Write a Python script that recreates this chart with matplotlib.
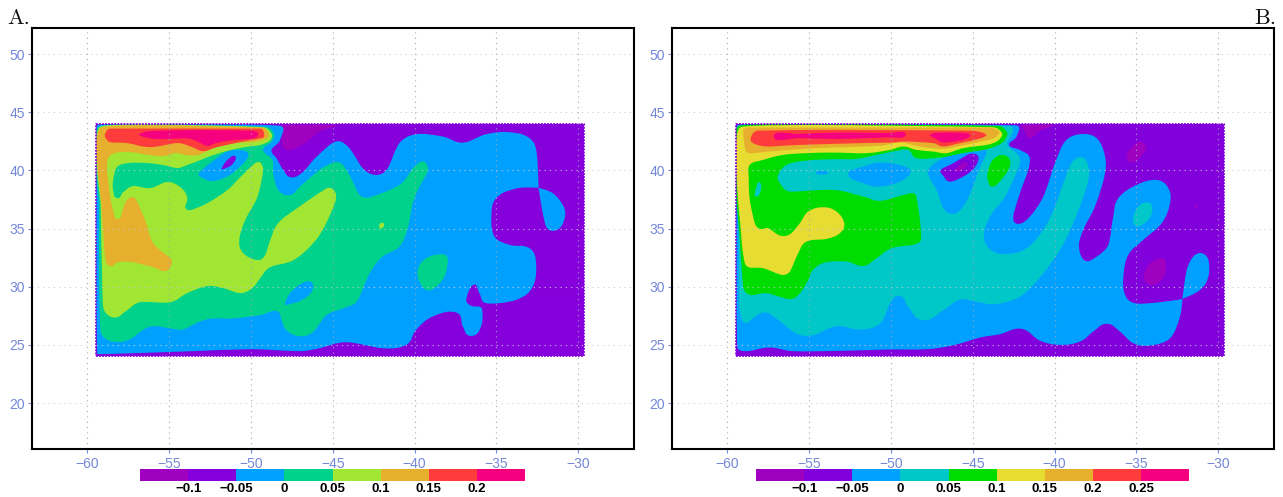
import numpy as np
import matplotlib
matplotlib.use('Agg')
import matplotlib.pyplot as plt
from matplotlib.colors import ListedColormap, BoundaryNorm
from matplotlib.path import Path
from matplotlib.patches import PathPatch, Rectangle

# contour outlines, as (lon, lat)
field_lon = [-59.47, -29.68]
field_lat = [24.08, 44.0]

xtick_vals = [-60, -55, -50, -45, -40, -35, -30]
ytick_vals = [20, 25, 30, 35, 40, 45, 50]

a_levels = [-0.15, -0.1, -0.05, 0, 0.05, 0.1, 0.15, 0.2, 0.25]
a_ticks = [-0.1, -0.05, 0, 0.05, 0.1, 0.15, 0.2]
a_tick_labels = ['\u22120.1', '\u22120.05', '0', '0.05', '0.1', '0.15', '0.2']
a_colors = ['#a000c0', '#8600dc', '#00a0ff', '#00d28c', '#a0e632', '#e6af2d', '#ff3c3c', '#f5007f']

b_levels = [-0.15, -0.1, -0.05, 0, 0.05, 0.1, 0.15, 0.2, 0.25, 0.3]
b_ticks = [-0.1, -0.05, 0, 0.05, 0.1, 0.15, 0.2, 0.25]
b_tick_labels = ['\u22120.1', '\u22120.05', '0', '0.05', '0.1', '0.15', '0.2', '0.25']
b_colors = ['#a000c0', '#8200dc', '#00a0ff', '#00c8c8', '#00dc00', '#e6dc32', '#e6af2d', '#ff3c3c', '#f5007f']

a_blue = [(-59.4, 43.87), (-48.27, 43.85), (-48.23, 42.6), (-48.74, 41.75), (-48.43, 41.03), (-48.02, 40.03),
          (-47.52, 39.4), (-46.8, 39.89), (-45.99, 41.17), (-44.8, 42.48), (-43.98, 41.9), (-43.17, 40.19),
          (-42.35, 39.61), (-41.64, 40.19), (-40.93, 42.34), (-39.91, 43.11), (-38.28, 42.91), (-37.06, 42.39),
          (-35.63, 43.11), (-34.21, 43.28), (-32.98, 42.77), (-32.54, 41.48), (-32.43, 38.5), (-32.43, 38.5),
          (-33.8, 38.44),
          (-35.02, 37.61), (-35.31, 36.03), (-35.12, 34.31), (-34.21, 33.6), (-32.98, 33.31), (-32.58, 32.02),
          (-32.78, 30.01), (-33.8, 28.87), (-35.63, 28.58), (-36.04, 29.44), (-36.41, 30.16), (-36.85, 28.87),
          (-36.55, 28.36), (-35.9, 28.15), (-35.94, 26.58), (-36.55, 25.77), (-37.06, 26.58), (-37.46, 27.78),
          (-38.89, 27.44), (-39.91, 26.29), (-40.52, 25.0), (-41.95, 24.71), (-44.19, 25.23), (-45.81, 24.71),
          (-47.01, 24.46), (-49.98, 24.63), (-53.52, 24.46), (-56.58, 24.31), (-59.23, 24.2), (-59.4, 24.3)]
a_blue_lobe = [(-32.43, 38.5), (-32.43, 38.5), (-31.56, 38.04), (-30.95, 37.03), (-30.8, 36.17), (-31.05, 35.17),
               (-31.56, 34.8), (-31.97, 35.17), (-32.21, 36.6)]
a_green = [(-59.27, 30.29), (-59.19, 26.27), (-58.82, 25.47), (-58.0, 25.26), (-57.29, 25.56), (-56.17, 26.56),
           (-54.95, 26.42), (-54.13, 26.33), (-52.71, 27.19), (-51.08, 27.28), (-49.45, 27.56), (-48.43, 27.91),
           (-48.13, 27.13), (-47.82, 26.26), (-47.01, 25.74), (-46.19, 26.12), (-45.38, 27.56), (-44.36, 28.14),
           (-43.54, 28.71), (-43.03, 30.29), (-42.63, 31.43), (-41.95, 32.59), (-40.93, 33.45), (-40.42, 35.03),
           (-40.11, 37.18), (-39.7, 38.61), (-39.2, 39.9), (-39.3, 40.62), (-39.6, 40.76), (-40.11, 40.19),
           (-40.93, 38.75), (-42.76, 37.69), (-43.37, 37.89), (-43.88, 39.33), (-44.39, 40.47), (-44.9, 40.7),
           (-45.81, 40.04), (-47.01, 38.6), (-47.62, 37.88), (-48.33, 38.31), (-48.64, 39.74), (-48.68, 40.89),
           (-49.25, 41.75), (-48.74, 42.46), (-48.6, 43.18), (-49.14, 43.75), (-59.27, 43.75), (-59.27, 37.0)]
a_green_blob = [(-39.81, 31.45), (-39.3, 32.45), (-38.28, 32.79), (-37.97, 32.31), (-38.18, 30.87), (-38.79, 29.87),
                (-39.3, 29.73), (-39.7, 30.44)]
a_lime = [(-59.18, 43.77), (-49.31, 43.72), (-48.76, 43.21), (-48.82, 42.6), (-49.43, 42.18), (-50.35, 42.0),
          (-51.26, 41.74), (-52.3, 41.31), (-53.1, 40.88), (-53.89, 40.46), (-54.5, 40.2), (-55.36, 40.46),
          (-56.33, 40.63), (-57.49, 40.63), (-58.17, 40.29), (-58.41, 39.17), (-58.41, 38.31), (-58.17, 37.62),
          (-57.8, 38.13), (-57.19, 38.65), (-56.15, 38.48), (-55.11, 39.0), (-54.32, 38.56), (-53.89, 37.7),
          (-54.01, 36.84), (-53.71, 36.58), (-52.67, 37.18), (-51.45, 38.3), (-50.65, 39.42), (-49.74, 40.63),
          (-49.43, 40.67), (-49.25, 40.03), (-49.61, 37.7), (-50.35, 35.72), (-50.71, 34.0), (-50.47, 32.89),
          (-49.61, 32.29), (-49.13, 32.71), (-48.82, 34.0), (-48.33, 35.47), (-47.17, 36.76), (-45.34, 38.48),
          (-44.85, 38.13), (-44.85, 37.27), (-45.46, 35.3), (-46.19, 33.75), (-47.41, 32.28), (-48.82, 31.68),
          (-49.43, 30.74), (-49.92, 29.88), (-50.65, 29.45), (-51.69, 29.88), (-52.67, 30.05), (-53.89, 29.45),
          (-54.93, 28.67), (-56.76, 28.67), (-57.56, 27.98), (-58.17, 27.38), (-58.72, 27.55), (-59.02, 28.24),
          (-59.08, 30.31), (-59.18, 37.0)]
a_lime_dot = [(-42.15, 35.1), (-42.15, 35.35), (-42.0, 35.5), (-41.87, 35.4), (-41.9, 35.15), (-42.05, 35.0)]
a_orange = [(-59.14, 43.68), (-49.31, 43.68), (-48.94, 43.21), (-49.0, 42.78), (-49.86, 42.43), (-51.45, 42.35),
            (-52.67, 41.66), (-53.28, 41.31), (-53.89, 41.31), (-54.62, 41.49), (-55.36, 41.23), (-56.15, 41.31),
            (-57.37, 41.57), (-58.29, 41.49), (-58.72, 41.06), (-58.78, 40.02), (-58.59, 37.7), (-58.29, 35.9),
            (-57.98, 35.9), (-57.68, 37.19), (-57.25, 37.7), (-56.95, 37.27), (-56.46, 35.72), (-55.97, 33.75),
            (-54.93, 32.46), (-54.87, 31.86), (-55.23, 31.34), (-55.97, 31.68), (-57.25, 32.11), (-58.11, 32.11),
            (-58.59, 31.77), (-58.9, 32.46), (-59.14, 37.19)]
a_red = [(-58.9, 43.16), (-58.6, 43.59), (-49.43, 43.59), (-49.19, 43.12), (-49.31, 42.78), (-50.65, 42.43),
         (-52.06, 42.0), (-52.91, 41.66), (-53.59, 42.0), (-54.5, 42.35), (-56.15, 42.0), (-57.56, 42.35),
         (-58.6, 42.43), (-58.9, 42.86)]
a_pink = [(-56.82, 43.1), (-56.15, 43.38), (-53.1, 43.47), (-49.86, 43.4), (-49.55, 43.1), (-49.86, 42.75),
          (-51.08, 42.6), (-52.06, 42.37), (-52.67, 42.12), (-53.22, 42.46), (-53.89, 42.75), (-55.72, 42.69),
          (-56.58, 42.89)]
a_hole = [(-53.18, 39.74), (-52.5, 40.6), (-51.49, 41.6), (-50.67, 41.75), (-50.16, 41.46), (-50.37, 40.75),
          (-51.28, 39.6), (-52.3, 39.08), (-52.91, 39.31)]
a_hole_purple = [(-51.79, 40.17), (-51.49, 40.83), (-51.08, 41.26), (-50.92, 41.03), (-51.18, 40.46), (-51.69, 40.11)]
a_hole_low = [(-47.92, 28.48), (-47.62, 29.43), (-46.9, 30.29), (-46.29, 30.37), (-46.29, 29.57), (-46.9, 28.85),
              (-47.62, 28.51)]
a_magenta = [(-48.09, 43.89), (-44.85, 43.89), (-45.77, 43.38), (-46.68, 42.35), (-47.6, 41.74), (-48.03, 42.0),
             (-48.09, 42.86)]

b_blue = [(-59.39, 43.87), (-42.36, 43.87), (-42.32, 42.91), (-42.77, 42.19), (-42.12, 41.76), (-41.55, 41.19),
          (-41.61, 40.04), (-42.12, 38.04), (-42.53, 36.03), (-42.22, 35.4), (-41.51, 36.03), (-40.69, 37.75),
          (-39.98, 40.62), (-39.37, 42.48), (-38.45, 43.11), (-37.43, 42.77), (-36.92, 41.19), (-36.96, 39.47),
          (-37.54, 36.89), (-38.25, 34.89), (-38.51, 33.45), (-38.15, 32.25), (-37.43, 32.59), (-36.72, 33.6),
          (-36.42, 36.03), (-36.11, 37.61), (-34.99, 38.75), (-33.77, 39.18), (-33.05, 38.47), (-32.95, 37.18),
          (-33.46, 35.46), (-34.58, 34.03), (-35.5, 32.74), (-35.8, 30.87), (-35.7, 29.3), (-35.09, 28.58),
          (-33.56, 28.67), (-32.2, 28.95), (-32.2, 28.95), (-32.34, 27.44), (-32.95, 25.57), (-34.18, 24.94),
          (-35.19, 25.14),
          (-36.01, 26.15), (-36.82, 26.81), (-37.64, 26.15), (-38.45, 25.29), (-39.67, 25.0), (-40.9, 25.37),
          (-42.02, 26.38), (-43.34, 25.92), (-44.56, 25.63), (-46.19, 24.97), (-47.82, 24.63), (-50.26, 24.6),
          (-53.32, 24.48), (-55.97, 24.46), (-57.39, 24.77), (-58.62, 24.48), (-59.23, 24.54), (-59.39, 24.97)]
b_blue_lobe = [(-32.2, 28.95), (-32.2, 28.95), (-31.93, 31.45), (-31.53, 32.59), (-31.02, 32.88), (-30.61, 32.31),
               (-30.61, 30.87), (-31.12, 29.73)]
b_teal = [(-59.3, 43.8), (-42.73, 43.8), (-42.53, 43.34), (-42.89, 42.48), (-42.83, 42.05), (-42.16, 41.19),
          (-42.22, 40.19), (-43.03, 37.75), (-43.95, 36.03), (-44.32, 34.31), (-43.85, 33.11), (-42.83, 32.82),
          (-41.71, 33.31), (-40.69, 34.89), (-39.98, 36.89), (-39.47, 38.9), (-38.96, 40.62), (-38.35, 41.13),
          (-37.94, 40.33), (-37.94, 39.18), (-38.25, 37.75), (-38.86, 35.46), (-39.67, 33.17), (-40.69, 31.16),
          (-41.71, 29.58), (-42.53, 28.87), (-43.74, 28.5), (-44.77, 28.7), (-45.78, 28.9), (-46.8, 27.98),
          (-48.02, 27.12), (-48.94, 28.27), (-49.45, 29.21), (-50.06, 28.55), (-50.67, 26.83), (-51.89, 26.32),
          (-53.32, 26.6), (-54.75, 25.83), (-55.76, 25.97), (-56.99, 27.26), (-57.8, 27.78), (-58.82, 26.89),
          (-59.12, 27.26), (-59.27, 28.55), (-59.3, 36.0)]
b_teal_blob = [(-35.19, 36.03), (-34.89, 36.89), (-34.28, 37.23), (-34.03, 36.6), (-34.28, 35.75), (-34.89, 35.17),
               (-35.15, 35.4)]
b_teal_dot = [(-58.31, 38.04), (-58.11, 38.98), (-57.92, 38.75), (-58.0, 38.04), (-58.21, 37.75)]
b_hole_mid = [(-52.61, 39.67), (-51.69, 40.33), (-50.67, 40.67), (-49.45, 40.47), (-48.8, 39.9), (-49.45, 39.04),
              (-50.67, 38.61), (-51.69, 38.9)]
b_hole_dot = [(-54.58, 39.79), (-54.24, 39.96), (-53.83, 39.81), (-54.24, 39.64)]
b_hole_east = [(-47.72, 40.04), (-47.01, 40.9), (-45.78, 41.62), (-44.77, 41.82), (-44.15, 41.62), (-44.66, 39.9),
               (-45.07, 38.32), (-45.58, 36.89), (-46.19, 36.26), (-46.8, 36.75), (-47.21, 38.32), (-47.62, 39.33)]
b_hole_purple = [(-46.95, 40.04), (-46.19, 40.62), (-45.17, 41.42), (-44.66, 41.19), (-44.87, 40.27), (-45.58, 39.47),
                 (-46.4, 39.04), (-46.8, 39.53)]
b_hole_magenta = [(-46.09, 40.04), (-45.58, 40.67), (-45.32, 40.56), (-45.58, 40.1), (-46.0, 39.9)]
b_green = [(-59.29, 43.83), (-43.44, 43.83), (-42.97, 43.42), (-42.91, 42.99), (-43.24, 42.34), (-44.15, 41.82),
           (-45.58, 41.48), (-47.01, 41.1), (-48.43, 41.05), (-48.94, 41.76), (-49.65, 41.68), (-50.88, 41.33),
           (-52.1, 40.99), (-53.52, 40.96), (-55.15, 40.85), (-56.37, 40.47), (-56.88, 39.61), (-56.78, 38.9),
           (-56.17, 38.18), (-53.52, 38.32), (-51.69, 37.75), (-50.67, 37.38), (-49.45, 37.81), (-48.64, 38.04),
           (-48.43, 37.61), (-48.23, 35.75), (-48.17, 34.03), (-48.64, 33.6), (-49.96, 33.31), (-50.88, 32.45),
           (-51.69, 31.79), (-52.71, 32.16), (-54.03, 32.08), (-54.75, 31.45), (-55.05, 30.59), (-55.56, 29.44),
           (-56.17, 28.93), (-57.6, 29.44), (-58.62, 29.3), (-59.02, 30.01), (-59.23, 34.03)]
b_green_blob = [(-44.11, 39.61), (-43.85, 40.76), (-43.24, 41.33), (-42.73, 40.9), (-42.83, 40.04), (-43.44, 38.9),
                (-43.85, 38.61), (-44.05, 39.04)]
b_yellow = [(-59.19, 43.71), (-43.75, 43.71), (-43.28, 43.34), (-43.22, 42.97), (-43.54, 42.48), (-44.15, 42.19),
            (-45.58, 41.91), (-46.6, 41.48), (-47.41, 41.62), (-48.43, 41.76), (-49.25, 42.05), (-50.06, 41.76),
            (-51.49, 41.48), (-53.52, 41.53), (-55.15, 41.48), (-56.58, 41.33), (-57.8, 40.9), (-58.62, 40.47),
            (-58.68, 39.18), (-58.62, 37.46), (-58.31, 35.46), (-58.0, 34.97), (-57.49, 35.03), (-56.78, 34.4),
            (-56.17, 34.51), (-55.56, 35.46), (-55.05, 36.46), (-54.13, 36.83), (-53.32, 36.46), (-52.85, 35.46),
            (-53.12, 34.6), (-53.93, 34.11), (-55.15, 33.88), (-55.66, 32.88), (-56.17, 31.3), (-56.68, 31.02),
            (-57.8, 31.59), (-58.62, 31.65), (-58.92, 32.02), (-59.12, 34.03)]
b_orange = [(-59.02, 43.48), (-58.72, 43.68), (-43.95, 43.68), (-43.44, 43.42), (-43.4, 43.14), (-43.75, 42.74),
            (-44.97, 42.34), (-46.6, 41.88), (-47.31, 41.88), (-48.43, 42.11), (-49.45, 42.39), (-50.67, 42.11),
            (-52.91, 41.99), (-54.95, 41.88), (-57.19, 41.65), (-58.62, 41.48), (-58.92, 41.91)]
b_red = [(-58.55, 42.85), (-58.11, 43.42), (-53.52, 43.48), (-45.17, 43.42), (-44.2, 43.11), (-44.56, 42.74),
         (-45.78, 42.34), (-46.8, 42.05), (-47.41, 42.34), (-49.04, 42.48), (-50.06, 42.39), (-51.89, 42.34),
         (-55.56, 42.19), (-57.6, 42.05), (-58.41, 42.34)]
b_pink_west = [(-57.15, 42.91), (-55.56, 43.14), (-53.12, 43.25), (-50.26, 43.2), (-49.1, 43.08), (-50.26, 42.85),
               (-53.12, 42.71), (-55.56, 42.77)]
b_pink_east = [(-47.56, 43.11), (-46.6, 43.25), (-45.38, 43.2), (-45.17, 42.91), (-45.78, 42.56), (-46.8, 42.39),
               (-47.21, 42.68)]
b_magenta_top = [(-41.91, 43.95), (-40.18, 43.95), (-40.9, 43.42), (-41.51, 42.77), (-41.81, 43.34)]
b_magenta_north = [(-35.56, 41.48), (-34.99, 42.39), (-34.58, 42.34), (-34.44, 41.76), (-34.99, 40.85), (-35.46, 40.76)]
b_magenta_south = [(-34.54, 31.02), (-34.17, 32.02), (-33.46, 32.45), (-33.22, 32.02), (-33.3, 30.87), (-33.97, 30.16),
                   (-34.44, 30.44)]
b_magenta_dot = [(-31.46, 36.85), (-31.36, 37.05), (-31.28, 36.9), (-31.36, 36.72)]

# painter's order, low values first. index goes into a_colors / b_colors
a_layers = [(a_magenta, 0), (a_blue, 2), (a_blue_lobe, 2), (a_green, 3), (a_green_blob, 3), (a_hole, 2),
            (a_hole_purple, 1), (a_hole_low, 2), (a_lime, 4), (a_lime_dot, 4), (a_orange, 5), (a_red, 6), (a_pink, 7)]
b_layers = [(b_magenta_top, 0), (b_magenta_north, 0), (b_magenta_south, 0), (b_magenta_dot, 0), (b_blue, 2),
            (b_blue_lobe, 2), (b_teal, 3), (b_teal_blob, 3), (b_hole_mid, 2), (b_hole_dot, 2), (b_hole_east, 2),
            (b_hole_purple, 1), (b_hole_magenta, 0), (b_green, 4), (b_green_blob, 4), (b_teal_dot, 3), (b_yellow, 5),
            (b_orange, 6), (b_red, 7), (b_pink_west, 8), (b_pink_east, 8)]

TICK_COLOR = '#7488d8'


def smooth_patch(outline, color, z):
    # closed bezier through the traced points, short handles so long edges stay straight
    pts = np.array(outline, dtype=float)
    prev_pts = np.roll(pts, 1, axis=0)
    next_pts = np.roll(pts, -1, axis=0)
    tang = next_pts - prev_pts
    tang = tang / np.linalg.norm(tang, axis=1, keepdims=True)
    seg_next = np.linalg.norm(next_pts - pts, axis=1, keepdims=True)
    seg_prev = np.linalg.norm(pts - prev_pts, axis=1, keepdims=True)
    handle = np.minimum(np.minimum(seg_next, seg_prev) / 2.5, 0.8)
    ctrl1 = pts + tang * handle
    ctrl2 = next_pts - np.roll(tang * handle, -1, axis=0)
    verts = [pts[0]]
    codes = [Path.MOVETO]
    for i in range(len(pts)):
        verts += [ctrl1[i], ctrl2[i], next_pts[i]]
        codes += [Path.CURVE4] * 3
    return PathPatch(Path(verts, codes), facecolor=color, edgecolor='none', zorder=z)


def draw_panel(ax, layers, colors):
    ax.fill_between(field_lon, field_lat[0], field_lat[1], color=colors[1], lw=0, zorder=1)
    clip = Rectangle((field_lon[0], field_lat[0]), field_lon[1] - field_lon[0], field_lat[1] - field_lat[0],
                     transform=ax.transData)
    for i, (outline, idx) in enumerate(layers):
        patch = ax.add_patch(smooth_patch(outline, colors[idx], 1.1 + i * 0.01))
        patch.set_clip_path(clip)
    # the field is drawn with dots in the original, so its rim looks serrated
    ax.plot([field_lon[0], field_lon[1], field_lon[1], field_lon[0], field_lon[0]],
            [field_lat[0], field_lat[0], field_lat[1], field_lat[1], field_lat[0]],
            color=colors[1], lw=1.3, ls=(0, (1, 0.7)), zorder=1.5)
    ax.set_xlim(-63.37, -26.6)
    ax.set_ylim(16.05, 52.24)
    ax.set_xticks(xtick_vals)
    ax.set_yticks(ytick_vals)
    ax.tick_params(colors=TICK_COLOR, labelsize=10, length=3, width=0.8)
    ax.tick_params(axis='x', pad=3)
    ax.tick_params(axis='y', pad=2)
    for lab in ax.get_xticklabels() + ax.get_yticklabels():
        lab.set_fontfamily('Liberation Sans')
    ax.grid(axis='x', color='#a4a4c0', lw=0.8, ls=(0, (1, 3.8)), zorder=3)
    ax.grid(axis='y', color='#cacad0', lw=0.8, ls=(0, (1, 3.8)), zorder=3)
    ax.set_axisbelow(False)
    for sp in ax.spines.values():
        sp.set_linewidth(1.5)
        sp.set_zorder(5)


def draw_colorbar(fig, rect, levels, colors, ticks, labels):
    cax = fig.add_axes(rect)
    cmap = ListedColormap(colors)
    norm = BoundaryNorm(levels, cmap.N)
    cb = fig.colorbar(plt.cm.ScalarMappable(norm=norm, cmap=cmap), cax=cax, orientation='horizontal',
                      spacing='uniform', ticks=ticks)
    cb.outline.set_visible(False)
    cb.set_ticklabels(labels, fontfamily='Liberation Sans', fontweight='bold', fontsize=9.5)
    cb.ax.tick_params(length=0, pad=1.5)
    cb.ax.minorticks_off()


W, H = 1283, 497
fig = plt.figure(figsize=(W / 100, H / 100), dpi=100)

ax_a = fig.add_axes([32 / W, 1 - 449 / H, 602 / W, 421 / H])
ax_b = fig.add_axes([672 / W, 1 - 449 / H, 602 / W, 421 / H])
draw_panel(ax_a, a_layers, a_colors)
draw_panel(ax_b, b_layers, b_colors)

draw_colorbar(fig, [140 / W, 1 - 481 / H, 385 / W, 12 / H], a_levels, a_colors, a_ticks, a_tick_labels)
draw_colorbar(fig, [756 / W, 1 - 481 / H, 433.3 / W, 12 / H], b_levels, b_colors, b_ticks, b_tick_labels)

fig.text(7 / W, 1 - 24 / H, 'A.', family=['cmr10', 'Liberation Serif'], fontsize=16, color='#111111')
fig.text(1276 / W, 1 - 24 / H, 'B.', family=['cmr10', 'Liberation Serif'], fontsize=16, color='#111111', ha='right')

fig.savefig('out.png', dpi=100)
